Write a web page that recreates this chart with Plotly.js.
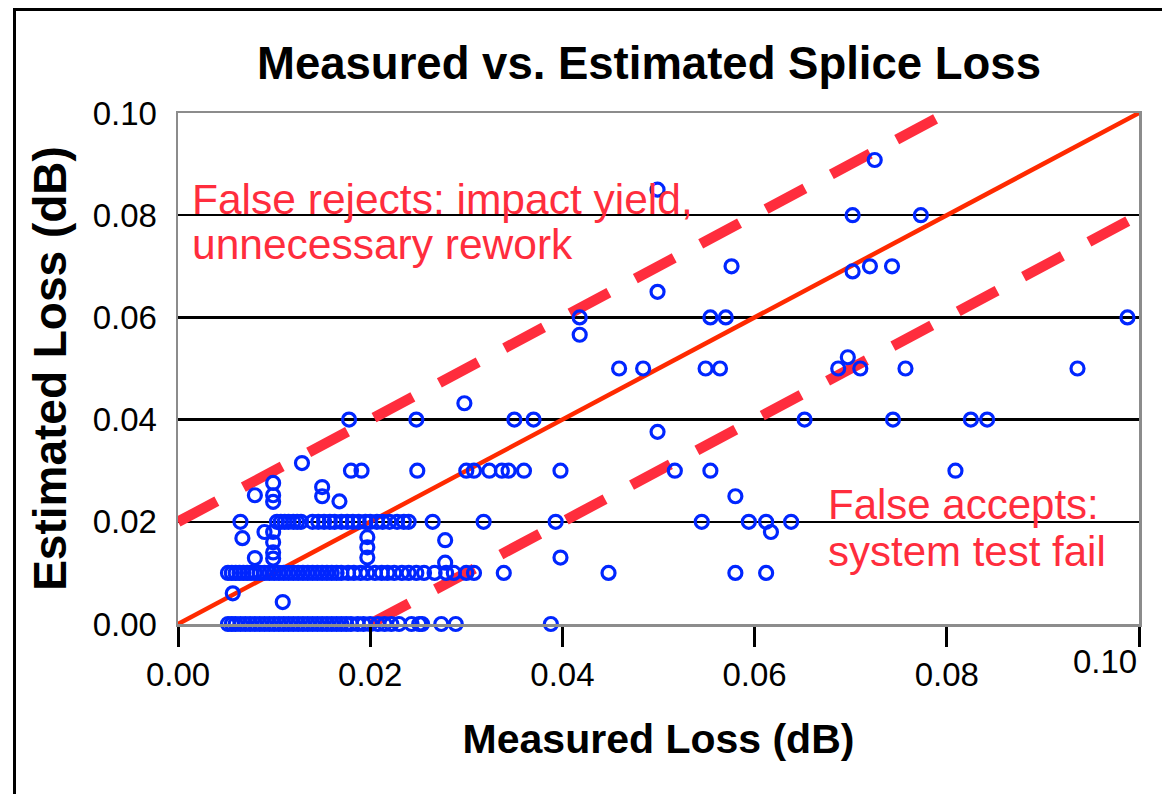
<!DOCTYPE html>
<html><head><meta charset="utf-8">
<script src="https://cdn.plot.ly/plotly-3.0.1.min.js"></script>
<style>
html,body{margin:0;padding:0;background:#fff;overflow:hidden}
#chart{position:absolute;left:0;top:0;width:1162px;height:794px}
#frame{position:absolute;left:13px;top:8px;width:1200px;height:900px;border:3px solid #000;pointer-events:none}
</style></head><body>
<div id="chart"></div><div id="frame"></div>
<script>
// Measured loss (dB) for each splice
var measuredLoss = [
  // estimated 0.00
  0.0052,0.0056,0.0060,0.0065,0.0070,0.0075,0.0080,0.0085,0.0090,0.0095,0.0100,0.0105,0.0110,0.0115,0.0120,0.0125,0.0130,0.0135,0.0140,0.0145,
  0.0150,0.0155,0.0160,0.0165,0.0170,0.0175,0.0180,0.0187,0.0193,0.0200,0.0208,0.0215,0.0222,0.0230,0.0243,0.0251,0.0254,0.0274,0.0289,0.0388,
  // estimated 0.01
  0.0052,0.0056,0.0060,0.0064,0.0068,0.0072,0.0076,0.0080,0.0085,0.0090,0.0095,0.0100,0.0105,0.0110,0.0115,0.0120,0.0125,0.0130,0.0135,0.0140,
  0.0145,0.0150,0.0155,0.0160,0.0165,0.0170,0.0177,0.0183,0.0190,0.0197,0.0205,0.0212,0.0218,0.0225,0.0233,0.0240,0.0248,0.0256,0.0267,0.0279,
  0.0287,0.0300,0.0308,0.0339,0.0448,0.0580,0.0612,
  // estimated 0.02
  0.0065,0.0103,0.0107,0.0111,0.0115,0.0120,0.0124,0.0128,0.0140,0.0146,0.0152,0.0158,0.0163,0.0170,0.0176,0.0182,0.0188,0.0195,0.0200,0.0207,
  0.0213,0.0220,0.0228,0.0235,0.0240,0.0265,0.0318,0.0393,0.0545,0.0594,0.0612,0.0638,
  // estimated 0.03
  0.0180,0.0191,0.0249,0.0300,0.0308,0.0324,0.0337,0.0344,0.0360,0.0398,0.0517,0.0554,0.0809,
  // estimated 0.04
  0.0178,0.0248,0.0350,0.0370,0.0652,0.0744,0.0825,0.0842,
  // estimated 0.05
  0.0459,0.0484,0.0549,0.0564,0.0687,0.0710,0.0757,0.0936,
  // estimated 0.06
  0.0418,0.0554,0.0570,0.0988,
  // estimated 0.07
  0.0576,0.0720,0.0743,
  // estimated 0.08
  0.0702,0.0773,
  // scattered
  0.0057,0.0109,0.0099,0.0099,0.0099,0.0099,0.0099,0.0099,0.0099,0.0090,0.0080,0.0067,0.0080,0.0197,0.0197,0.0197,0.0150,0.0150,0.0168,0.0129,
  0.0278,0.0278,0.0398,0.0617,0.0580,0.0499,0.0298,0.0697,0.0702,0.0418,0.0499,0.0725,0.0499,0.0610
];
// Estimated loss (dB) for each splice
var estimatedLoss = [
  0,0,0,0,0,0,0,0,0,0,0,0,0,0,0,0,0,0,0,0,
  0,0,0,0,0,0,0,0,0,0,0,0,0,0,0,0,0,0,0,0,
  0.01,0.01,0.01,0.01,0.01,0.01,0.01,0.01,0.01,0.01,0.01,0.01,0.01,0.01,0.01,0.01,0.01,0.01,0.01,0.01,
  0.01,0.01,0.01,0.01,0.01,0.01,0.01,0.01,0.01,0.01,0.01,0.01,0.01,0.01,0.01,0.01,0.01,0.01,0.01,0.01,
  0.01,0.01,0.01,0.01,0.01,0.01,0.01,
  0.02,0.02,0.02,0.02,0.02,0.02,0.02,0.02,0.02,0.02,0.02,0.02,0.02,0.02,0.02,0.02,0.02,0.02,0.02,0.02,
  0.02,0.02,0.02,0.02,0.02,0.02,0.02,0.02,0.02,0.02,0.02,0.02,
  0.03,0.03,0.03,0.03,0.03,0.03,0.03,0.03,0.03,0.03,0.03,0.03,0.03,
  0.04,0.04,0.04,0.04,0.04,0.04,0.04,0.04,
  0.05,0.05,0.05,0.05,0.05,0.05,0.05,0.05,
  0.06,0.06,0.06,0.06,
  0.07,0.07,0.07,
  0.08,0.08,
  0.0060,0.0043,0.0128,0.0140,0.0160,0.0180,0.0239,0.0252,0.0276,0.0180,0.0129,0.0168,0.0252,0.0130,0.0150,0.0170,0.0268,0.0250,0.0240,0.0315,
  0.0164,0.0120,0.0130,0.0180,0.0250,0.0376,0.0432,0.0522,0.0690,0.0566,0.0650,0.0908,0.0850,0.1004
];
// Reference lines (measured = estimated, and +/- 0.02 dB bands)
var idealX = [0, 0.10], idealY = [0, 0.10];
var upperX = [0, 0.08], upperY = [0.02, 0.10];
var lowerX = [0.02, 0.10], lowerY = [0, 0.08];
var tickValues = [0, 0.02, 0.04, 0.06, 0.08, 0.10];
var yTickLabels = ['0.00','0.02','0.04','0.06','0.08','0.10'];
var xTickLabels = ['0.00','0.02','0.04','0.06','0.08',''];
var lastXTickLabel = '0.10';

var FONT = 'Liberation Sans, Arial, Helvetica, sans-serif';
var dashRed = '#ff2d3d';

var traces = [
  {x: idealX, y: idealY, type: 'scatter', mode: 'lines',
   line: {color: '#ff2a00', width: 4.5}, hoverinfo: 'skip'},
  {x: upperX, y: upperY, type: 'scatter', mode: 'lines',
   line: {color: dashRed, width: 10.5, dash: '44px,30px'}, hoverinfo: 'skip'},
  {x: lowerX, y: lowerY, type: 'scatter', mode: 'lines',
   line: {color: dashRed, width: 10.5, dash: '44px,30px'}, hoverinfo: 'skip'},
  {x: measuredLoss, y: estimatedLoss, type: 'scatter', mode: 'markers', cliponaxis: false,
   marker: {symbol: 'circle-open', size: 13, color: '#0026ff', line: {width: 3.2, color: '#0026ff'}}}
];

var layout = {
  width: 1162, height: 794,
  margin: {l: 178, r: 23, t: 113, b: 170, pad: 0},
  paper_bgcolor: '#fff', plot_bgcolor: '#fff',
  showlegend: false, hovermode: false,
  font: {family: FONT, color: '#000'},
  title: {text: '<b>Measured vs. Estimated Splice Loss</b>', font: {family: FONT, size: 45.5, color: '#000'},
          x: 0.5585, xanchor: 'center', y: 0.92, yanchor: 'middle'},
  xaxis: {range: [0, 0.10], tickvals: tickValues, ticktext: xTickLabels,
          showgrid: false, zeroline: false, showline: true, mirror: true,
          linecolor: '#8c8c8c', linewidth: 2.5,
          ticks: 'outside', ticklen: 20, tickwidth: 3, tickcolor: '#000',
          tickfont: {family: FONT, size: 33, color: '#000'},
          title: {text: '<b>Measured Loss (dB)</b>', font: {family: FONT, size: 41, color: '#000'}, standoff: 32}},
  yaxis: {range: [0, 0.10], tickvals: tickValues, ticktext: yTickLabels,
          showgrid: true, gridcolor: '#000', gridwidth: 2.5, zeroline: false,
          showline: true, mirror: true, linecolor: '#8c8c8c', linewidth: 2.5,
          ticks: '', ticklabelstandoff: 12,
          tickfont: {family: FONT, size: 33, color: '#000'},
          title: {text: '<b>Estimated Loss (dB)</b>', font: {family: FONT, size: 46, color: '#000'}, standoff: 12}},
  annotations: [
    {x: 0.10, y: -0.074, xref: 'x', yref: 'paper', text: lastXTickLabel, showarrow: false,
     xanchor: 'right', yanchor: 'middle', font: {family: FONT, size: 33, color: '#000'}},
    {x: 0.00124, y: 0.083, xref: 'x', yref: 'y', text: 'False rejects: impact yield,', showarrow: false,
     xanchor: 'left', yanchor: 'middle', font: {family: FONT, size: 42.5, color: dashRed}},
    {x: 0.00124, y: 0.0742, xref: 'x', yref: 'y', text: 'unnecessary rework', showarrow: false,
     xanchor: 'left', yanchor: 'middle', font: {family: FONT, size: 42.5, color: dashRed}},
    {x: 0.0674, y: 0.0233, xref: 'x', yref: 'y', text: 'False accepts:', showarrow: false,
     xanchor: 'left', yanchor: 'middle', font: {family: FONT, size: 42, color: dashRed}},
    {x: 0.0674, y: 0.0141, xref: 'x', yref: 'y', text: 'system test fail', showarrow: false,
     xanchor: 'left', yanchor: 'middle', font: {family: FONT, size: 42, color: dashRed}}
  ]
};

Plotly.newPlot('chart', traces, layout, {staticPlot: true, displayModeBar: false});
</script></body></html>
